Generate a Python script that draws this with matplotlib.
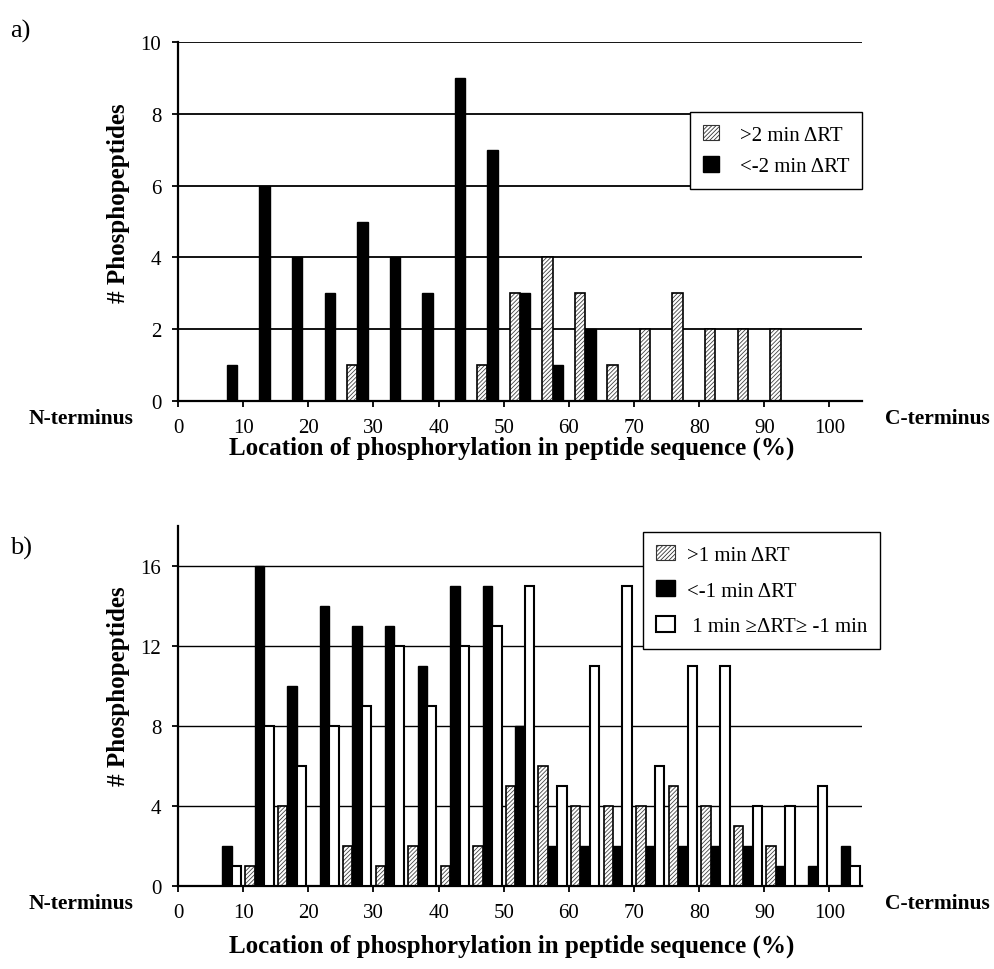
import numpy as np
import matplotlib
matplotlib.use("Agg")
import matplotlib.pyplot as plt
from matplotlib.patches import Patch

plt.rcParams['font.family'] = ['Liberation Serif', 'DejaVu Serif']
plt.rcParams['hatch.linewidth'] = 0.6

# 5 % bins along the peptide sequence (bin centres)
bin_mid = np.arange(2.5, 105, 5)

# a) +/- 2 min retention time shift
a_up = [0, 0, 0, 0, 0, 1, 0, 0, 0, 1, 3, 4, 3, 1, 2, 3, 2, 2, 2, 0, 0]
a_down = [0, 1, 6, 4, 3, 5, 4, 3, 9, 7, 3, 1, 2, 0, 0, 0, 0, 0, 0, 0, 0]

# b) +/- 1 min retention time shift
b_up = [0, 0, 1, 4, 0, 2, 1, 2, 1, 2, 5, 6, 4, 4, 4, 5, 4, 3, 2, 0, 0]
b_down = [0, 2, 16, 10, 14, 13, 13, 11, 15, 15, 8, 2, 2, 2, 2, 2, 2, 2, 1, 1, 2]
b_mid = [0, 1, 8, 6, 8, 9, 12, 9, 12, 13, 15, 5, 11, 15, 6, 11, 11, 4, 4, 5, 1]

xticks = list(range(0, 101, 10))
HATCH = '////////'

W, H = 994, 970
fig = plt.figure(figsize=(W / 100, H / 100), dpi=100)


def px_axes(left, top, right, bottom):
    return fig.add_axes([left / W, 1 - bottom / H, (right - left) / W, (bottom - top) / H])


def bars(ax, x, h, w, kind):
    x = np.asarray(x)
    h = np.asarray(h)
    m = h > 0
    x, h = x[m], h[m]
    if kind == 'hatch':
        ax.bar(x, h, w, color='white', edgecolor='#444444', hatch=HATCH, linewidth=0, zorder=2)
        ax.bar(x, h, w, fill=False, edgecolor='black', linewidth=1.2, zorder=3)
    elif kind == 'black':
        ax.bar(x, h, w, color='black', edgecolor='black', linewidth=1.0, zorder=3)
    else:
        ax.bar(x, h, w, color='white', edgecolor='black', linewidth=1.5, zorder=3)


def style(ax, ymax, ystep):
    ax.set_xlim(0, 105)
    ax.set_ylim(0, ymax)
    ax.set_xticks(xticks)
    ax.set_yticks(np.arange(0, ymax + 0.1, ystep))
    ax.yaxis.grid(True, color='black', linewidth=1.3)
    ax.set_axisbelow(True)
    for s in ('top', 'right'):
        ax.spines[s].set_visible(False)
    for s in ('left', 'bottom'):
        ax.spines[s].set_linewidth(1.6)
    ax.tick_params(direction='out', length=4, width=1.3, labelsize=15, pad=8)


def legend(handles, labels, right, top, **kw):
    leg = fig.legend(handles, labels, loc='upper right', bbox_to_anchor=(right / W, 1 - top / H),
                     borderaxespad=0, fontsize=15, fancybox=False, framealpha=1,
                     edgecolor='black', handleheight=0.8, borderpad=0.6, **kw)
    leg.get_frame().set_linewidth(1.0)


# ---- panel a
ax1 = px_axes(178, 43, 862, 402)
wa = 1.6
bars(ax1, bin_mid - wa / 2, a_up, wa, 'hatch')
bars(ax1, bin_mid + wa / 2, a_down, wa, 'black')
style(ax1, 10, 2)
h_a = [Patch(facecolor='white', edgecolor='#333333', hatch=HATCH, linewidth=0.8),
       Patch(facecolor='black', edgecolor='black')]
legend(h_a, ['>2 min ΔRT', '<-2 min ΔRT'], 862, 113,
       handlelength=0.8, labelspacing=0.55, handletextpad=1.0)

# ---- panel b
ax2 = px_axes(178, 527, 862, 887)
wb = 1.45
bars(ax2, bin_mid - wb, b_up, wb, 'hatch')
bars(ax2, bin_mid, b_down, wb, 'black')
bars(ax2, bin_mid + wb, b_mid, wb, 'white')
style(ax2, 18, 4)
ax2.yaxis.grid(True, color='black', linewidth=1.0)
h_b = [Patch(facecolor='white', edgecolor='#333333', hatch=HATCH, linewidth=0.8),
       Patch(facecolor='black', edgecolor='black'),
       Patch(facecolor='white', edgecolor='black', linewidth=1.5)]
legend(h_b, ['>1 min ΔRT', '<-1 min ΔRT', ' 1 min ≥ΔRT≥ -1 min'], 880, 533,
       handlelength=0.9, labelspacing=0.75, handletextpad=0.6)


def ftext(x, y, s, **kw):
    fig.text(x / W, 1 - y / H, s, **kw)


xlab = 'Location of phosphorylation in peptide sequence (%)'
for top, axis_y, xl_y, yl_y, tag in ((31, 402, 448, 203, 'a)'), (548, 887, 946, 686, 'b)')):
    ftext(10, top, tag, fontsize=19, va='center', ha='left')
    ftext(81, axis_y + 17, 'N-terminus', fontsize=15.5, fontweight='bold', ha='center', va='center')
    ftext(937, axis_y + 17, 'C-terminus', fontsize=15.5, fontweight='bold', ha='center', va='center')
    ftext(512, xl_y, xlab, fontsize=18, fontweight='bold', ha='center', va='center')
    ftext(119, yl_y, '# Phosphopeptides', fontsize=18, fontweight='bold', ha='center',
          va='center', rotation=90)

fig.savefig('out.png', dpi=100)
